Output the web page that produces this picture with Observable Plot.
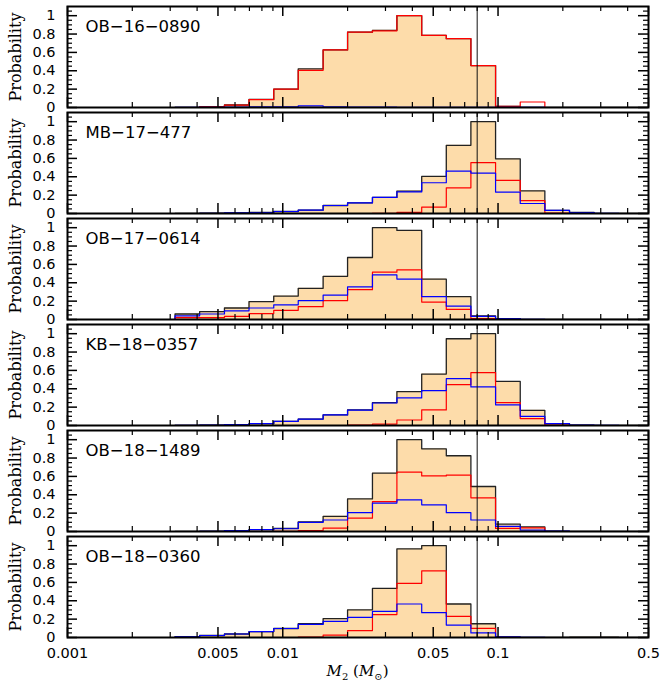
<!DOCTYPE html>
<html><head><meta charset="utf-8">
<script src="https://cdn.jsdelivr.net/npm/d3@7"></script>
<script src="https://cdn.jsdelivr.net/npm/@observablehq/plot@0.6"></script>
<style>
body{margin:0;background:#fff;}
#chart{position:relative;width:660px;height:688px;padding-top:3px;box-sizing:border-box;background:#fff;}
#chart svg{display:block;}
#xtitle{position:absolute;left:67px;width:581px;top:662px;text-align:center;font-family:"DejaVu Serif";font-size:15px;line-height:18px;color:#000;}
#xtitle sub{font-size:10px;font-style:normal;}
</style></head><body>
<div id="chart"><div id="xtitle"><i>M</i><sub>2</sub> (<i>M</i><sub>⊙</sub>)</div></div>
<script>
// bin edges (M2 in solar masses)
const binEdges = [0.00316, 0.00411, 0.00536, 0.00697, 0.00908, 0.0118, 0.0154, 0.0200, 0.0261, 0.0339,
  0.0442, 0.0575, 0.0748, 0.0974, 0.1268, 0.165, 0.2148, 0.2795, 0.3639, 0.4736, 0.6166];
const events = ["OB−16−0890", "MB−17−477", "OB−17−0614", "KB−18−0357", "OB−18−1489", "OB−18−0360"];
const massLimit = 0.08;

// OB-16-0890
const total_OB160890 = [0.002, 0.008, 0.027, 0.088, 0.2, 0.42, 0.627, 0.82, 0.84, 1.0, 0.786, 0.75, 0.457, 0.012, 0, 0, 0, 0, 0, 0];
const red_OB160890   = [0, 0.006, 0.025, 0.085, 0.2, 0.405, 0.627, 0.82, 0.835, 1.0, 0.786, 0.75, 0.457, 0.012, 0.06, 0, 0, 0, 0, 0];
const blue_OB160890  = [0.003, 0.003, 0.005, 0.007, 0.008, 0.018, 0.006, 0.005, 0.004, 0.003, 0.003, 0.003, 0.002, 0.002, 0.001, 0, 0, 0, 0, 0];
// MB-17-477
const total_MB17477 = [0, 0.003, 0.006, 0.011, 0.022, 0.036, 0.087, 0.116, 0.175, 0.244, 0.404, 0.742, 1.0, 0.596, 0.247, 0.033, 0.011, 0, 0, 0];
const red_MB17477   = [0, 0, 0, 0, 0, 0, 0, 0, 0.002, 0.012, 0.07, 0.28, 0.555, 0.36, 0.14, 0.005, 0, 0, 0, 0];
const blue_MB17477  = [0, 0.003, 0.006, 0.011, 0.022, 0.036, 0.087, 0.116, 0.175, 0.235, 0.335, 0.462, 0.44, 0.233, 0.109, 0.033, 0.011, 0.002, 0, 0];
// OB-17-0614
const total_OB170614 = [0.06, 0.085, 0.125, 0.195, 0.255, 0.34, 0.47, 0.675, 1.0, 0.97, 0.44, 0.25, 0.04, 0.01, 0, 0, 0, 0, 0, 0];
const red_OB170614   = [0.02, 0.02, 0.035, 0.065, 0.1, 0.14, 0.205, 0.325, 0.515, 0.54, 0.19, 0.11, 0.01, 0, 0, 0, 0, 0, 0, 0];
const blue_OB170614  = [0.04, 0.06, 0.095, 0.125, 0.16, 0.205, 0.265, 0.355, 0.485, 0.44, 0.25, 0.145, 0.035, 0.01, 0.002, 0, 0, 0, 0, 0];
// KB-18-0357
const total_KB180357 = [0.002, 0.005, 0.01, 0.02, 0.045, 0.07, 0.115, 0.17, 0.25, 0.37, 0.56, 0.945, 1.0, 0.48, 0.165, 0.02, 0.005, 0, 0, 0];
const red_KB180357   = [0, 0, 0, 0, 0, 0, 0, 0.005, 0.015, 0.06, 0.17, 0.445, 0.575, 0.25, 0.075, 0.005, 0, 0, 0, 0];
const blue_KB180357  = [0.002, 0.005, 0.01, 0.02, 0.045, 0.07, 0.115, 0.168, 0.245, 0.30, 0.38, 0.51, 0.42, 0.225, 0.10, 0.02, 0.005, 0.002, 0, 0];
// OB-18-1489
const total_OB181489 = [0, 0.003, 0.01, 0.02, 0.033, 0.105, 0.165, 0.355, 0.635, 1.0, 0.9, 0.825, 0.49, 0.08, 0.05, 0.005, 0, 0, 0, 0];
const red_OB181489   = [0, 0, 0, 0, 0.003, 0.01, 0.037, 0.145, 0.325, 0.647, 0.605, 0.615, 0.367, 0.033, 0.04, 0, 0, 0, 0, 0];
const blue_OB181489  = [0, 0.003, 0.01, 0.02, 0.03, 0.10, 0.125, 0.205, 0.31, 0.345, 0.29, 0.205, 0.125, 0.055, 0.015, 0.005, 0, 0, 0, 0];
// OB-18-0360
const total_OB180360 = [0.008, 0.022, 0.038, 0.065, 0.098, 0.15, 0.205, 0.30, 0.535, 0.965, 1.0, 0.365, 0.15, 0.005, 0, 0, 0.003, 0.003, 0, 0];
const red_OB180360   = [0, 0, 0, 0, 0, 0.005, 0.025, 0.075, 0.25, 0.59, 0.725, 0.23, 0.10, 0.002, 0, 0, 0, 0, 0, 0];
const blue_OB180360  = [0.008, 0.022, 0.038, 0.065, 0.098, 0.142, 0.175, 0.22, 0.285, 0.365, 0.27, 0.135, 0.05, 0.008, 0.002, 0, 0, 0, 0, 0];

// ticks
const xMajor = [0.001, 0.005, 0.01, 0.05, 0.1, 0.5];
const xMinor = [0.002, 0.003, 0.004, 0.006, 0.007, 0.008, 0.009, 0.02, 0.03, 0.04, 0.06, 0.07, 0.08, 0.09, 0.2, 0.3, 0.4];
const xLabels = [0.001, 0.005, 0.01, 0.05, 0.1, 0.5];
const yMajor = [0, 0.2, 0.4, 0.6, 0.8, 1];
const yMinor = [0.05, 0.1, 0.15, 0.25, 0.3, 0.35, 0.45, 0.5, 0.55, 0.65, 0.7, 0.75, 0.85, 0.9, 0.95, 1.05];

const panelData = [
  [total_OB160890, red_OB160890, blue_OB160890],
  [total_MB17477, red_MB17477, blue_MB17477],
  [total_OB170614, red_OB170614, blue_OB170614],
  [total_KB180357, red_KB180357, blue_KB180357],
  [total_OB181489, red_OB181489, blue_OB181489],
  [total_OB180360, red_OB180360, blue_OB180360]
];

// layout
const W = 660, ML = 67, MR = 12, PH = 101;
const PW = W - ML - MR;
const xDomain = [0.001, 0.5], yDomain = [0, 1.1];

function stepPoints(vals) {
  const pts = [{x: binEdges[0], y: 0}];
  vals.forEach((v, i) => { pts.push({x: binEdges[i], y: v}, {x: binEdges[i + 1], y: v}); });
  pts.push({x: binEdges[vals.length], y: 0});
  return pts;
}

// inward tick marks: tick length (px) converted into each scale's units
function tickMarks() {
  const yLen = (px) => (yDomain[1] - yDomain[0]) * px / PH;
  const xFac = (px) => Math.pow(xDomain[1] / xDomain[0], px / PW);
  const st = (px) => ({stroke: "#000", strokeWidth: px > 6 ? 1.5 : 1.2});
  const xT = (ticks, px) => [
    Plot.ruleX(ticks, {x: d => d, y1: yDomain[0], y2: yDomain[0] + yLen(px), ...st(px)}),
    Plot.ruleX(ticks, {x: d => d, y1: yDomain[1] - yLen(px), y2: yDomain[1], ...st(px)})
  ];
  const yT = (ticks, px) => [
    Plot.ruleY(ticks, {y: d => d, x1: xDomain[0], x2: xDomain[0] * xFac(px), ...st(px)}),
    Plot.ruleY(ticks, {y: d => d, x1: xDomain[1] / xFac(px), x2: xDomain[1], ...st(px)})
  ];
  return [...xT(xMajor, 10), ...xT(xMinor, 5), ...yT(yMajor, 10), ...yT(yMinor, 5)];
}

const chart = document.getElementById("chart");
events.forEach((name, i) => {
  const [tot, red, blue] = panelData[i];
  const isLast = i === events.length - 1;
  const marks = [
    Plot.area(stepPoints(tot), {x1: "x", y1: 0, y2: "y", fill: "#fddcaa", clip: true}),
    Plot.line(stepPoints(tot), {x: "x", y: "y", stroke: "#222", strokeWidth: 1.3, clip: true}),
    Plot.line(stepPoints(red), {x: "x", y: "y", stroke: "#ff0000", strokeWidth: 1.2, clip: true}),
    Plot.line(stepPoints(blue), {x: "x", y: "y", stroke: "#0000ff", strokeWidth: 1.2, clip: true}),
    Plot.ruleX([massLimit], {stroke: "#111", strokeWidth: 1}),
    ...tickMarks(),
    Plot.frame({stroke: "black", strokeWidth: 2}),
    Plot.text(yMajor, {y: d => d, text: d => String(d), frameAnchor: "left", dx: -12, textAnchor: "end",
      lineAnchor: "middle", fontSize: 14.5, fontFamily: "DejaVu Sans", fill: "black"}),
    Plot.text([name], {text: d => d, frameAnchor: "top-left", dx: 18, dy: 20, textAnchor: "start",
      lineAnchor: "middle", fontSize: 16.5, fontFamily: "DejaVu Sans", fill: "black"}),
    Plot.text(["Probability"], {text: d => d, frameAnchor: "left", dx: -52, rotate: -90,
      textAnchor: "middle", lineAnchor: "middle", fontSize: 16, fontFamily: "DejaVu Serif", fill: "black"})
  ];
  if (isLast) {
    marks.push(Plot.text(xLabels, {x: d => d, text: d => String(d), frameAnchor: "bottom", dy: 15.5,
      textAnchor: "middle", lineAnchor: "middle", fontSize: 14.5, fontFamily: "DejaVu Sans", fill: "black"}));
  }
  const svg = Plot.plot({
    width: W,
    height: isLast ? PH + 48 : PH + 5,
    marginTop: 3, marginBottom: isLast ? 45 : 2, marginLeft: ML, marginRight: MR,
    x: {type: "log", domain: xDomain, axis: null},
    y: {domain: yDomain, axis: null},
    style: {background: "white", overflow: "visible", fontFamily: "DejaVu Sans", color: "black"},
    marks
  });
  chart.insertBefore(svg, document.getElementById("xtitle"));
});
</script>
</body></html>
